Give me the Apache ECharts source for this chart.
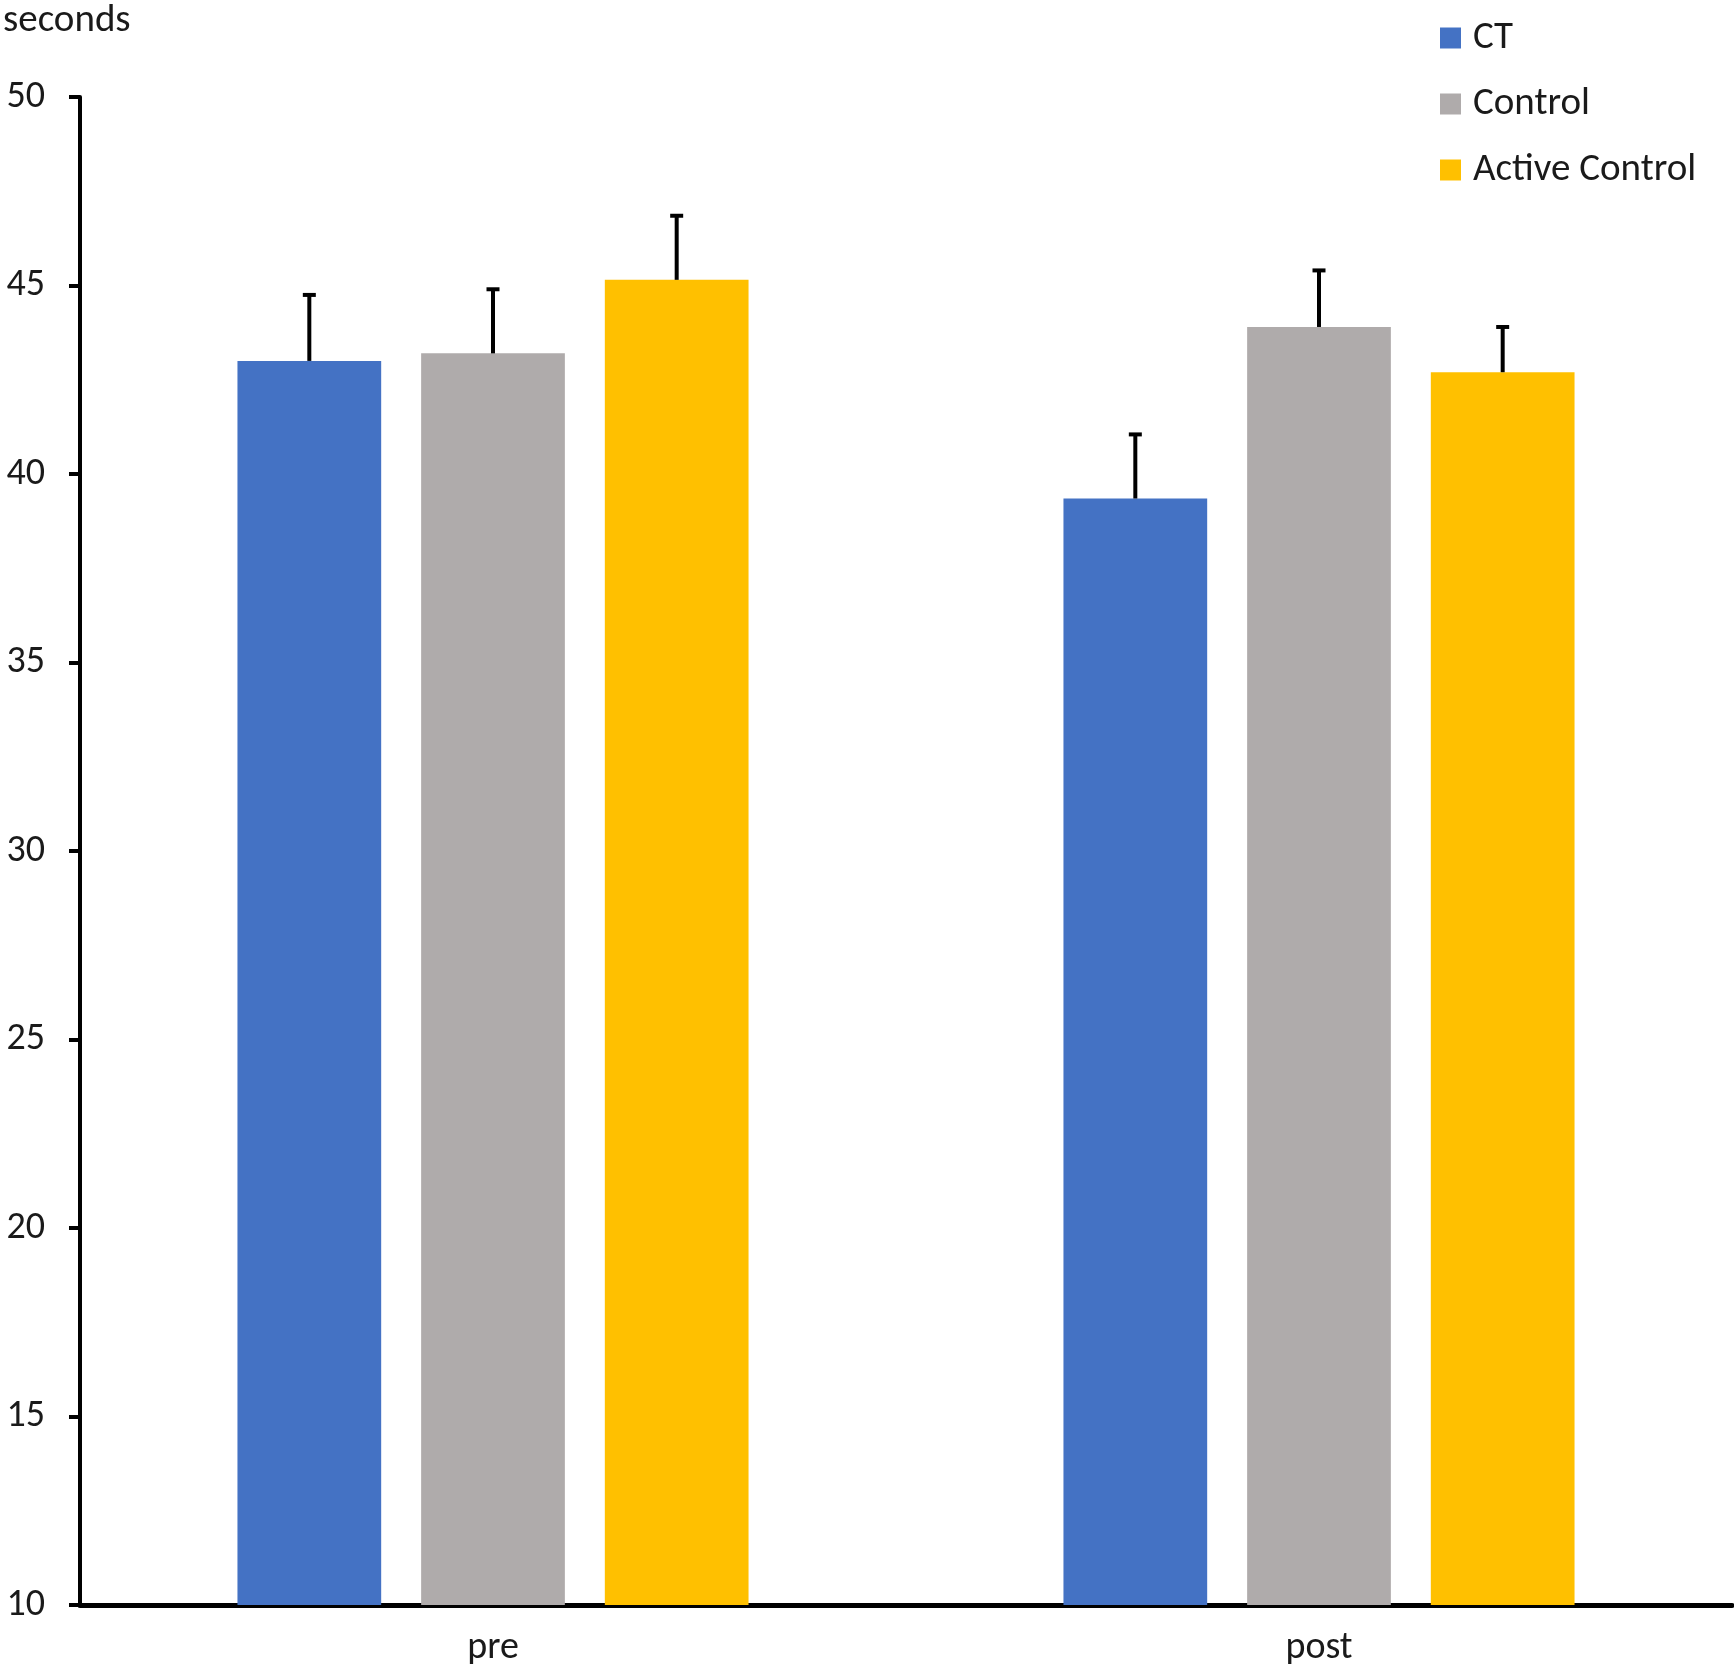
<!DOCTYPE html>
<html>
<head>
<meta charset="utf-8">
<script src="https://cdn.jsdelivr.net/npm/echarts@6/dist/echarts.min.js"></script>
<style>
    html, body { margin: 0; padding: 0; background: #fff; }
    #chart { width: 1734px; height: 1668px; }
</style>
</head>
<body>
<div id="chart"></div>
<script>
// values (seconds)
const categories = ['pre', 'post'];
const seriesNames = ['CT', 'Control', 'Active Control'];
const ctMeans = [43.0, 39.35];
const controlMeans = [43.2, 43.9];
const activeMeans = [45.15, 42.7];
const ctErr = [1.75, 1.7];
const controlErr = [1.7, 1.5];
const activeErr = [1.7, 1.2];
const colors = ['#4472C4', '#AFABAB', '#FFC000'];

const FONT = 'Carlito, Calibri, Lato, sans-serif';
const BAR_W = 0.174; // share of category width
const BAR_GAP = 0.278;

const means = [ctMeans, controlMeans, activeMeans];
const errs = [ctErr, controlErr, activeErr];

const chart = echarts.init(document.getElementById('chart'));

const barSeries = seriesNames.map((name, i) => ({
    name,
    type: 'bar',
    data: means[i],
    barWidth: (BAR_W * 100) + '%',
    barGap: (BAR_GAP * 100) + '%',
    itemStyle: {color: colors[i]},
}));

// upper error bars, drawn above each bar
const errSeries = seriesNames.map((name, i) => ({
    type: 'custom',
    z: 5,
    silent: true,
    data: categories.map((c, k) => [k, means[i][k], errs[i][k]]),
    encode: {x: 0, y: 1},
    renderItem(params, api) {
        const k = api.value(0);
        const band = api.size([1, 0])[0];
        const bw = band * BAR_W;
        const off = (i - 1) * bw * (1 + BAR_GAP);
        const base = api.coord([k, api.value(1)]);
        const top = api.coord([k, api.value(1) + api.value(2)]);
        const x = base[0] + off;
        const style = {stroke: '#000', lineWidth: 4};
        return {
            type: 'group',
            children: [
                {type: 'line', shape: {x1: x, y1: base[1], x2: x, y2: top[1]}, style},
                {type: 'line', shape: {x1: x - 6.5, y1: top[1], x2: x + 6.5, y2: top[1]}, style},
            ],
        };
    },
}));

chart.setOption({
    backgroundColor: '#fff',
    animation: false,
    textStyle: {fontFamily: FONT},
    title: {
        text: 'seconds',
        left: -2,
        top: -3,
        textStyle: {fontFamily: FONT, fontSize: 39, fontWeight: 'normal', color: '#1a1a1a'},
    },
    legend: {
        data: seriesNames,
        orient: 'vertical',
        left: 1435,
        top: 13,
        icon: 'rect',
        itemWidth: 21,
        itemHeight: 21,
        itemGap: 26,
        textStyle: {fontFamily: FONT, fontSize: 39, color: '#1a1a1a', lineHeight: 40, padding: [0, 0, 0, 7]},
    },
    grid: {left: 80, right: 2, top: 97, bottom: 63, containLabel: false},
    xAxis: {
        type: 'category',
        data: categories,
        axisLine: {lineStyle: {color: '#000', width: 5}},
        axisTick: {show: false},
        axisLabel: {fontFamily: FONT, fontSize: 38, color: '#1a1a1a', margin: 24},
    },
    yAxis: {
        type: 'value',
        min: 10,
        max: 50,
        interval: 5,
        splitLine: {show: false},
        axisLine: {show: true, lineStyle: {color: '#000', width: 4}},
        axisTick: {show: true, inside: false, length: 11, lineStyle: {color: '#000', width: 4}},
        axisLabel: {fontFamily: FONT, fontSize: 38, color: '#1a1a1a', margin: 35},
    },
    series: [...barSeries, ...errSeries],
});
</script>
</body>
</html>
